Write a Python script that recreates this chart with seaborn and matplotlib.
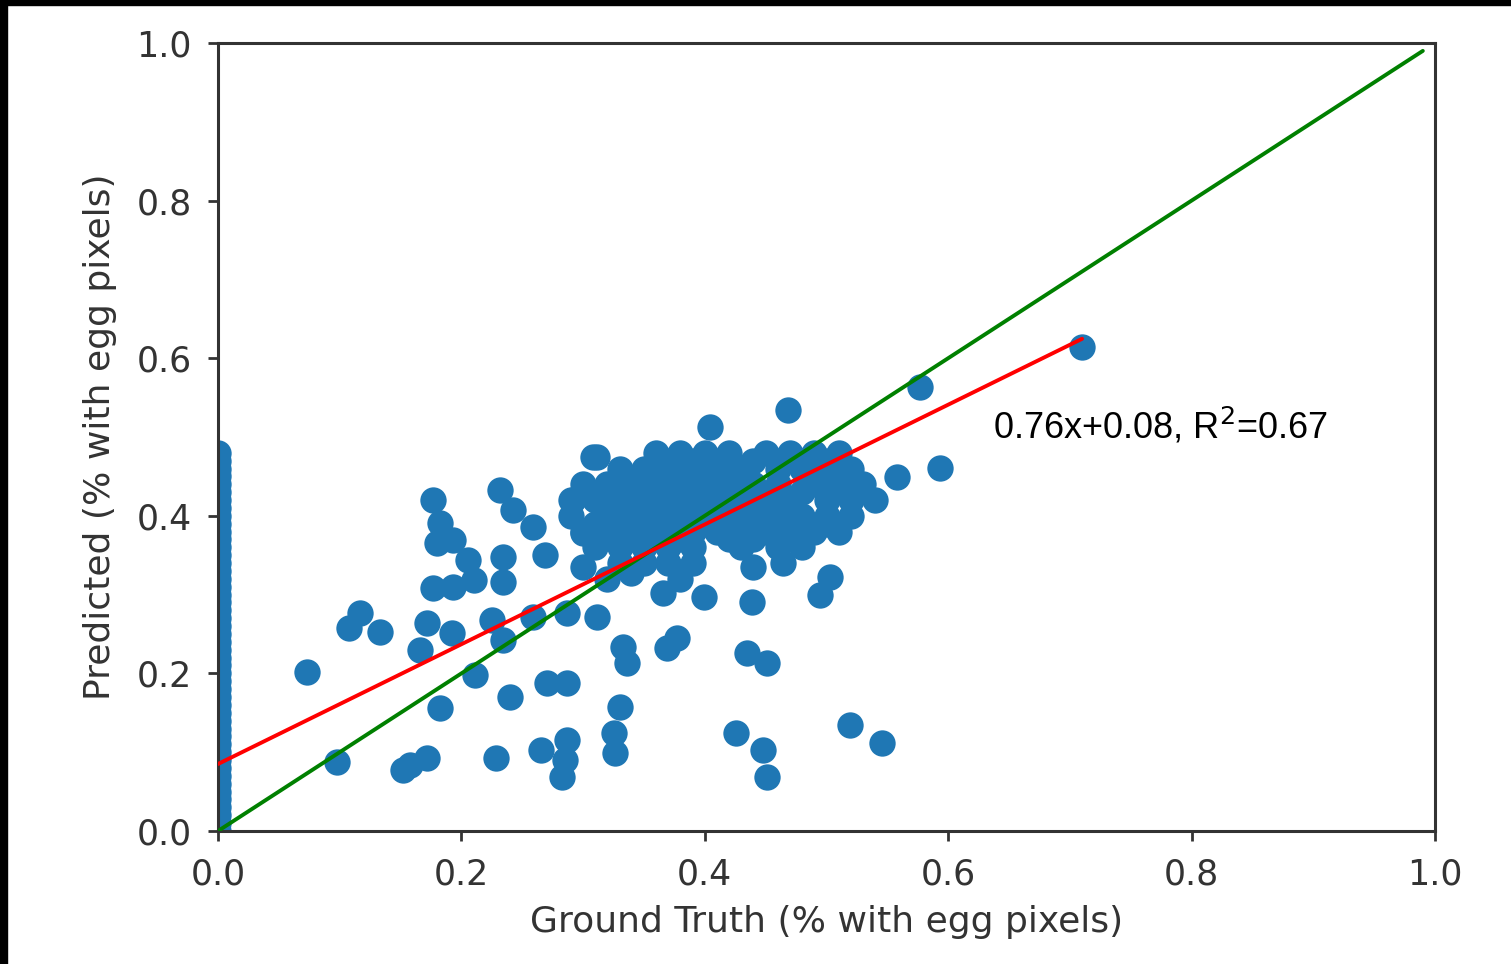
import numpy as np
import pandas as pd
import matplotlib
matplotlib.use("Agg")
import matplotlib.pyplot as plt
import seaborn as sns

# ground truth / predicted fractions
# images with no egg pixels in the ground truth (x = 0 column)
zero_gt_pred = [0.00, 0.01, 0.02, 0.03, 0.04, 0.05, 0.06, 0.07, 0.08, 0.09, 0.10,
                0.11, 0.12, 0.13, 0.14, 0.15, 0.16, 0.17, 0.18, 0.19, 0.20, 0.21,
                0.22, 0.23, 0.24, 0.25, 0.26, 0.27, 0.28, 0.29, 0.30, 0.31, 0.32,
                0.33, 0.34, 0.35, 0.36, 0.37, 0.38, 0.39, 0.40, 0.41, 0.42, 0.43,
                0.44, 0.45, 0.46, 0.47, 0.48]

scatter_gt = [0.073, 0.098, 0.117, 0.108, 0.133, 0.152, 0.172, 0.158, 0.166, 0.172,
              0.192, 0.182, 0.177, 0.182, 0.180, 0.193, 0.205, 0.177, 0.193, 0.210,
              0.211, 0.225, 0.234, 0.228, 0.232, 0.242, 0.234, 0.234, 0.240, 0.270,
              0.287, 0.265, 0.287, 0.283, 0.285, 0.259, 0.287, 0.311, 0.330, 0.325,
              0.326, 0.333, 0.336, 0.369, 0.377, 0.366, 0.399, 0.439, 0.440, 0.464,
              0.503, 0.495, 0.435, 0.451, 0.426, 0.448, 0.451, 0.519, 0.546, 0.468,
              0.404, 0.311, 0.558, 0.593, 0.577, 0.710, 0.339, 0.292, 0.308, 0.300,
              0.300, 0.269, 0.259]
scatter_pred = [0.202, 0.088, 0.277, 0.258, 0.253, 0.077, 0.093, 0.084, 0.230, 0.264,
                0.251, 0.156, 0.420, 0.391, 0.365, 0.369, 0.344, 0.308, 0.310, 0.319,
                0.198, 0.268, 0.242, 0.093, 0.433, 0.407, 0.348, 0.316, 0.170, 0.188,
                0.188, 0.103, 0.115, 0.069, 0.090, 0.272, 0.277, 0.272, 0.157, 0.124,
                0.099, 0.234, 0.213, 0.232, 0.245, 0.302, 0.297, 0.291, 0.335, 0.340,
                0.322, 0.300, 0.226, 0.213, 0.124, 0.103, 0.069, 0.135, 0.112, 0.534,
                0.513, 0.475, 0.449, 0.461, 0.563, 0.614, 0.327, 0.420, 0.475, 0.378,
                0.335, 0.350, 0.386]

# dense cluster, one row of predicted value at a time
cluster_rows = {
    0.48: [0.36, 0.38, 0.40, 0.42, 0.45, 0.47, 0.49, 0.51],
    0.47: [0.37, 0.39, 0.41, 0.44, 0.46, 0.48, 0.50],
    0.46: [0.33, 0.35, 0.37, 0.39, 0.41, 0.43, 0.46, 0.48, 0.50, 0.52],
    0.44: [0.30, 0.32, 0.34, 0.36, 0.38, 0.40, 0.42, 0.44, 0.46, 0.49, 0.51, 0.53],
    0.43: [0.32, 0.34, 0.36, 0.38, 0.40, 0.42, 0.44, 0.48, 0.50, 0.52],
    0.42: [0.29, 0.31, 0.33, 0.35, 0.37, 0.39, 0.41, 0.43, 0.45, 0.47, 0.50, 0.52, 0.54],
    0.40: [0.29, 0.32, 0.34, 0.36, 0.38, 0.40, 0.42, 0.44, 0.46, 0.48, 0.50, 0.52],
    0.39: [0.31, 0.33, 0.36, 0.38, 0.40, 0.42, 0.44, 0.46, 0.48, 0.50],
    0.38: [0.30, 0.32, 0.35, 0.37, 0.39, 0.41, 0.43, 0.45, 0.47, 0.49, 0.51],
    0.37: [0.34, 0.36, 0.38, 0.42, 0.44, 0.47],
    0.36: [0.31, 0.33, 0.35, 0.37, 0.39, 0.43, 0.46, 0.48],
    0.34: [0.33, 0.35, 0.37, 0.39],
    0.32: [0.32, 0.38],
}

slope = 0.76
intercept = 0.085
identity_end = 0.99
fit_label = "0.76x+0.08, R$^2$=0.67"

gt = [0.0] * len(zero_gt_pred) + scatter_gt
pred = zero_gt_pred + scatter_pred
for yv, xs in cluster_rows.items():
    gt += xs
    pred += [yv] * len(xs)
df = pd.DataFrame({"gt": gt, "pred": pred})

sns.set_style("ticks")
plt.rcParams["font.family"] = ["DejaVu Sans"]

fig = plt.figure(figsize=(15.11, 9.64), dpi=100)
ax = fig.add_axes([0.1443, 0.138, 0.8054, 0.8174])

sns.scatterplot(data=df, x="gt", y="pred", ax=ax, s=360, color="#1f77b4",
                linewidth=0, alpha=1, zorder=2)

fit_x = np.array([df["gt"].min(), df["gt"].max()])
sns.lineplot(x=[0, identity_end], y=[0, identity_end], ax=ax, color="green",
             linewidth=2.8, zorder=3)
sns.lineplot(x=fit_x, y=slope * fit_x + intercept, ax=ax, color="red",
             linewidth=2.8, zorder=4)

ax.text(0.637, 0.513, fit_label, fontsize=26, family="Liberation Sans",
        va="center", ha="left", color="black")

ax.set_xlim(0, 1)
ax.set_ylim(0, 1)
ticks = [0.0, 0.2, 0.4, 0.6, 0.8, 1.0]
ax.set_xticks(ticks)
ax.set_yticks(ticks)
ax.set_xticklabels([f"{t:.1f}" for t in ticks])
ax.set_yticklabels([f"{t:.1f}" for t in ticks])
ax.tick_params(labelsize=25, length=7, width=2, colors="#333333", pad=12)
for sp in ax.spines.values():
    sp.set_linewidth(2.2)
    sp.set_color("#333333")
    sp.set_visible(True)

ax.set_xlabel("Ground Truth (% with egg pixels)", fontsize=26, color="#333333", labelpad=10)
ax.set_ylabel("Predicted (% with egg pixels)", fontsize=26, color="#333333", labelpad=14)

# black strips along the top and left edge of the screenshot
fig.patches.append(plt.Rectangle((0, 1 - 5 / 964), 1, 5 / 964, transform=fig.transFigure,
                                 color="black", zorder=10))
fig.patches.append(plt.Rectangle((0, 0), 7 / 1511, 1, transform=fig.transFigure,
                                 color="black", zorder=10))

fig.savefig("out.png", dpi=100)
